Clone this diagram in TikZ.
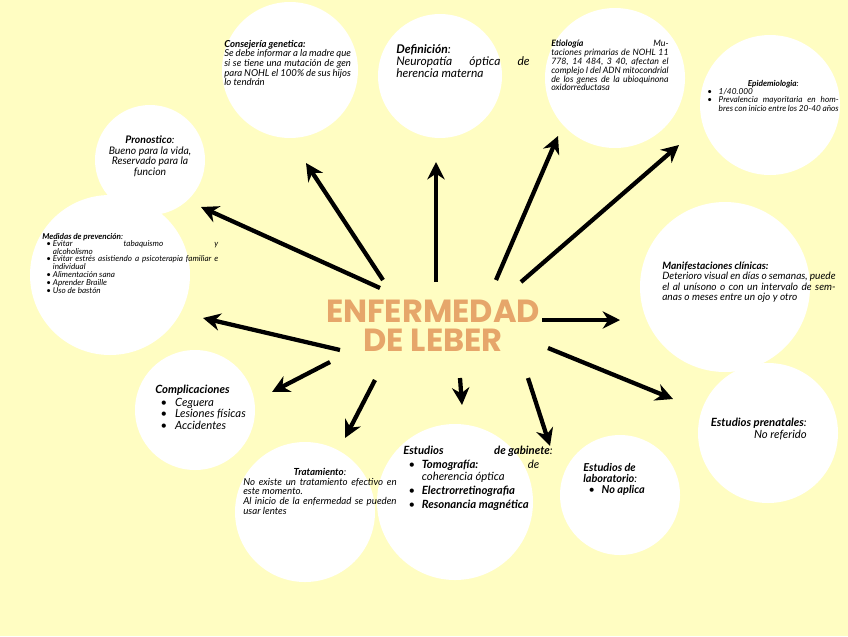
\documentclass[tikz,border=0pt]{standalone}
\usepackage{fontspec}
\setmainfont{Lato}
\newfontfamily\titlefont{Poppins}
\usetikzlibrary{arrows.meta}
\definecolor{bg}{HTML}{FFFDC2}
\definecolor{ttl}{HTML}{E6A66A}
\tikzset{
 bubble/.style={circle,fill=white,draw=none,minimum size=#1},
 txt/.style={align=justify,font=\itshape\fontsize{#1}{#1}\selectfont,inner sep=0pt},
 arr/.style={line width=3.2pt,-{Stealth[length=13pt,width=13pt]}}
}
\begin{document}
\begin{tikzpicture}[x=0.75pt,y=-0.75pt]
\fill[bg] (0,0) rectangle (848,636);
\useasboundingbox (0,0) rectangle (848,636);
% bubbles
\node[bubble=136pt*0.75] (c1) at (290,70) {};
\node[bubble=124pt*0.75] (c2) at (440,76) {};
\node[bubble=140pt*0.75] (c3) at (615,78) {};
\node[bubble=140pt*0.75] (c4) at (770,105) {};
\node[bubble=110pt*0.75] (c5) at (150,160) {};
\node[bubble=160pt*0.75] (c6) at (110,275) {};
\node[bubble=170pt*0.75] (c7) at (725,287) {};
\node[bubble=120pt*0.75] (c8) at (195,410) {};
\node[bubble=140pt*0.75] (c9) at (305,512) {};
\node[bubble=156pt*0.75] (c10) at (455,502) {};
\node[bubble=120pt*0.75] (c11) at (620,495) {};
\node[bubble=140pt*0.75] (c12) at (768,433) {};
% texts
\node[txt=7.2,text width=95,anchor=north west] (t1) at (224,40) {{\bfseries Consejería genetica:}\\ Se debe informar a la madre que si se tiene una mutación de gen para NOHL el 100\% de sus hijos lo tendrán};
\node[txt=9,text width=100,anchor=north west] (t2) at (396,44) {{\bfseries Definición}:\\ Neuropatía óptica de herencia materna};
\node[txt=6.6,text width=88,anchor=north west] (t3) at (551,40) {{\bfseries Etiología} \hfill Mutaciones primarias de NOHL 11 778, 14 484, 3 40, afectan el complejo I del ADN mitocondrial de los genes de la ubioquinona oxidorreductasa};
\node[txt=6.2,text width=105,anchor=north west] (t4) at (703,80) {{\centering{\bfseries Epidemiologia}:\par}
 \hspace*{3pt}\textbullet\hspace{5pt}1/40.000\\
 \hspace*{3pt}\textbullet\hspace{5pt}\parbox[t]{90pt}{Prevalencia mayoritaria en hombres con inicio entre los 20-40 años}};
\node[txt=7.8,align=center,anchor=north] (t5) at (150,136) {{\bfseries Pronostico}:\\ Bueno para la vida,\\ Reservado para la\\ funcion};
\node[txt=6.1,text width=133,anchor=north west] (t6) at (42,233) {{\bfseries Medidas de prevención}:\\[-1pt]
 \hspace*{3pt}\textbullet\ \parbox[t]{124pt}{Evitar \hfill tabaquismo \hfill y\\ alcoholismo}\\
 \hspace*{3pt}\textbullet\ \parbox[t]{124pt}{Evitar estrés asistiendo a psicoterapia familiar e individual}\\
 \hspace*{3pt}\textbullet\ Alimentación sana\\
 \hspace*{3pt}\textbullet\ Aprender Braille\\
 \hspace*{3pt}\textbullet\ Uso de bastón};
\node[txt=7.6,text width=130,anchor=north west] (t7) at (662,262) {{\bfseries Manifestaciones clínicas:}\\ Deterioro visual en días o semanas, puede el al unísono o con un intervalo de semanas o meses entre un ojo y otro};
\node[txt=8.5,align=left,anchor=north west] (t8) at (155,385) {{\bfseries Complicaciones}\\[1pt]
 \hspace*{4pt}\textbullet\hspace{6pt}Ceguera\\ \hspace*{4pt}\textbullet\hspace{6pt}Lesiones físicas\\ \hspace*{4pt}\textbullet\hspace{6pt}Accidentes};
\node[txt=7.3,text width=115,anchor=north west] (t9) at (243,468) {{\centering{\bfseries Tratamiento}:\par} No existe un tratamiento efectivo en este momento.\\ Al inicio de la enfermedad se pueden usar lentes};
\node[txt=8.5,text width=112,anchor=north west] (t10) at (403,446) {{\bfseries Estudios \hfill de gabinete}:\\[2pt]
 \hspace*{4pt}\textbullet\hspace{5pt}\parbox[t]{88pt}{{\bfseries Tomografía:} \hfill de coherencia óptica}\\[2pt]
 \hspace*{4pt}\textbullet\hspace{5pt}\parbox[t]{88pt}{\bfseries Electrorretinografia}\\[2pt]
 \hspace*{4pt}\textbullet\hspace{5pt}\parbox[t]{88pt}{\bfseries Resonancia magnética}};
\node[txt=8.2,align=left,anchor=north west] (t11) at (583,463) {{\bfseries Estudios de}\\ {\bfseries laboratorio}:\\ \hspace*{4pt}\textbullet\hspace{5pt}{\bfseries No aplica}};
\node[txt=8.5,align=right,anchor=north east] (t12) at (807,418) {{\bfseries Estudios prenatales}:\\ No referido};
\node[font=\titlefont\bfseries\fontsize{24}{22}\selectfont,text=ttl,align=center,inner sep=0pt] (title) at (433,326) {ENFERMEDAD\\ DE LEBER};
% arrows
\foreach \n/\a/\b/\c/\d in {a1/383/280/306/163, a2/436/282/436/162, a3/496/280/558/136, a4/521/282/679/145,
 a5/380/288/201/207, a6/340/350/203/318, a7/542/320/620/320, a8/548/348/673/399,
 a9/375/380/345/438, a10/460/378/462/405, a11/528/378/550/446, a12/330/362/272/392}{
 \coordinate (\n s) at (\a,\b); \coordinate (\n e) at (\c,\d);
 \draw[arr] (\n s) -- (\n e);}
\end{tikzpicture}
\end{document}
